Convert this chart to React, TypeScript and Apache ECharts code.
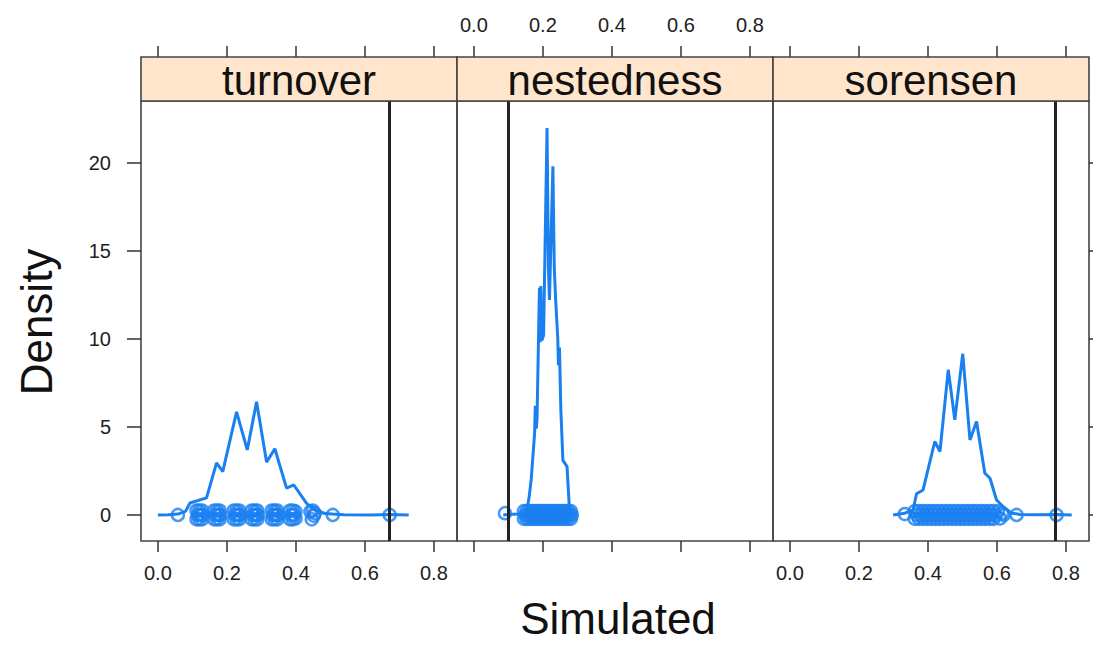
import React, { useEffect, useRef } from "react";
import * as echarts from "echarts";

// ---------- data ----------
const panelNames = ["turnover", "nestedness", "sorensen"];
const xTicks = [0, 0.2, 0.4, 0.6, 0.8];
const yTicks = [0, 5, 10, 15, 20];
const observedValues = [0.672, 0.099, 0.774];

const turnoverDensity = [
  [0.0, 0], [0.03, 0.01], [0.058, 0.05], [0.08, 0.2], [0.093, 0.68], [0.141, 0.97],
  [0.170, 2.96], [0.188, 2.46], [0.228, 5.85], [0.259, 3.69], [0.286, 6.42],
  [0.315, 3.0], [0.339, 3.76], [0.373, 1.52], [0.394, 1.70], [0.431, 0.66],
  [0.455, 0.28], [0.484, 0.08], [0.507, 0.05], [0.54, 0.01], [0.62, 0.0],
  [0.672, 0.03], [0.727, 0.0],
];
const nestednessDensity = [
  [0.085, 0], [0.099, 0.03], [0.13, 0.05], [0.152, 0.1], [0.160, 1.0], [0.166, 1.99],
  [0.176, 4.64], [0.178, 6.2], [0.181, 4.9], [0.183, 5.5], [0.190, 12.9], [0.192, 9.8],
  [0.194, 13.0], [0.197, 9.9], [0.202, 10.2], [0.212, 21.97], [0.216, 14.0], [0.219, 12.2],
  [0.229, 19.8], [0.233, 14.0], [0.237, 12.2], [0.243, 10.06], [0.245, 8.5],
  [0.248, 9.5], [0.252, 6.0], [0.258, 3.1], [0.270, 2.74], [0.277, 0.28],
  [0.29, 0.02], [0.30, 0],
];
const sorensenDensity = [
  [0.299, 0], [0.333, 0.1], [0.357, 0.28], [0.367, 1.2], [0.386, 1.42],
  [0.420, 4.17], [0.435, 3.6], [0.459, 8.24], [0.478, 5.4], [0.501, 9.15],
  [0.522, 4.26], [0.541, 5.3], [0.565, 2.37], [0.580, 2.08], [0.599, 0.85],
  [0.618, 0.47], [0.643, 0.1], [0.667, 0.03], [0.72, 0.01], [0.774, 0.03],
  [0.817, 0],
];

// simulated values (x) with their vertical jitter (y)
const turnoverPoints = [
  [0.058, 0],
  [0.112, -0.25], [0.112, 0.25], [0.116, 0], [0.12, -0.25], [0.12, 0.25], [0.124, 0], [0.128, -0.25], [0.128, 0.25], [0.13, 0],
  [0.163, -0.25], [0.163, 0.25], [0.167, 0], [0.171, -0.25], [0.171, 0.25], [0.175, 0], [0.179, -0.25], [0.179, 0.25], [0.181, 0],
  [0.22, -0.25], [0.22, 0.25], [0.224, 0], [0.228, -0.25], [0.228, 0.25], [0.232, 0], [0.236, -0.25], [0.236, 0.25], [0.238, 0],
  [0.272, -0.25], [0.272, 0.25], [0.276, 0], [0.28, -0.25], [0.28, 0.25], [0.284, 0], [0.288, -0.25], [0.288, 0.25], [0.29, 0],
  [0.33, -0.25], [0.33, 0.25], [0.334, 0], [0.338, -0.25], [0.338, 0.25], [0.342, 0], [0.346, -0.25], [0.346, 0.25], [0.348, 0],
  [0.383, -0.25], [0.383, 0.25], [0.387, 0], [0.391, -0.25], [0.391, 0.25], [0.395, 0], [0.399, -0.2], [0.399, 0.2],
  [0.442, 0.2], [0.446, -0.25], [0.449, 0.25], [0.452, -0.05], [0.455, 0.1],
  [0.507, 0], [0.672, 0],
];
const nestednessPoints = [
  [0.09, 0.1],
  [0.145, 0.22], [0.145, -0.22], [0.149, 0.0], [0.153, 0.22], [0.153, -0.22],
  [0.157, 0.0], [0.161, 0.22], [0.161, -0.22], [0.165, 0.0], [0.169, 0.22],
  [0.169, -0.22], [0.173, 0.0], [0.177, 0.22], [0.177, -0.22], [0.181, 0.0],
  [0.185, 0.22], [0.185, -0.22], [0.189, 0.0], [0.193, 0.22], [0.193, -0.22],
  [0.197, 0.0], [0.201, 0.22], [0.201, -0.22], [0.205, 0.0], [0.209, 0.22],
  [0.209, -0.22], [0.213, 0.0], [0.217, 0.22], [0.217, -0.22], [0.221, 0.0],
  [0.225, 0.22], [0.225, -0.22], [0.229, 0.0], [0.233, 0.22], [0.233, -0.22],
  [0.237, 0.0], [0.241, 0.22], [0.241, -0.22], [0.245, 0.0], [0.249, 0.22],
  [0.249, -0.22], [0.253, 0.0], [0.257, 0.22], [0.257, -0.22], [0.261, 0.0],
  [0.265, 0.22], [0.265, -0.22], [0.269, 0.0], [0.273, 0.22], [0.273, -0.22],
  [0.277, 0.0], [0.281, 0.22], [0.281, -0.22], [0.284, 0.0],
];
const sorensenPoints = [
  [0.333, 0.05],
  [0.362, 0.22], [0.362, -0.22], [0.368, 0.0], [0.374, 0.22], [0.374, -0.22],
  [0.38, 0.0], [0.386, 0.22], [0.386, -0.22], [0.392, 0.0], [0.398, 0.22],
  [0.398, -0.22], [0.404, 0.0], [0.41, 0.22], [0.41, -0.22], [0.416, 0.0],
  [0.422, 0.22], [0.422, -0.22], [0.428, 0.0], [0.434, 0.22], [0.434, -0.22],
  [0.44, 0.0], [0.446, 0.22], [0.446, -0.22], [0.452, 0.0], [0.458, 0.22],
  [0.458, -0.22], [0.464, 0.0], [0.47, 0.22], [0.47, -0.22], [0.476, 0.0],
  [0.482, 0.22], [0.482, -0.22], [0.488, 0.0], [0.494, 0.22], [0.494, -0.22],
  [0.5, 0.0], [0.506, 0.22], [0.506, -0.22], [0.512, 0.0], [0.518, 0.22],
  [0.518, -0.22], [0.524, 0.0], [0.53, 0.22], [0.53, -0.22], [0.536, 0.0],
  [0.542, 0.22], [0.542, -0.22], [0.548, 0.0], [0.554, 0.22], [0.554, -0.22],
  [0.56, 0.0], [0.566, 0.22], [0.566, -0.22], [0.572, 0.0], [0.578, 0.22],
  [0.578, -0.22], [0.584, 0.0], [0.59, 0.22], [0.59, -0.22], [0.596, 0.0],
  [0.603, 0.2], [0.609, -0.2], [0.615, 0.1], [0.62, 0.0],
  [0.657, 0], [0.773, 0],
];

const densities = [turnoverDensity, nestednessDensity, sorensenDensity];
const points = [turnoverPoints, nestednessPoints, sorensenPoints];

// ---------- layout / style ----------
const X_MIN = -0.049;
const X_MAX = 0.867;
const Y_MIN = -1.48;
const Y_MAX = 23.5;
const PANEL_LEFT = 141;
const PANEL_W = 316;
const PANEL_TOP = 101;
const PANEL_H = 440;
const STRIP_H = 44;
const BLUE = "#1a80f0";
const FONT = "'Liberation Sans', Arial, Helvetica, sans-serif";
const AXIS_COL = "#333";

export default function App() {
  const ref = useRef<HTMLDivElement>(null);

  useEffect(() => {
    document.body.style.margin = "0";
    const chart = echarts.init(ref.current!, null, { renderer: "svg" });

    const grids = panelNames.map((_, i) => ({
      left: PANEL_LEFT + PANEL_W * i,
      top: PANEL_TOP,
      width: PANEL_W,
      height: PANEL_H,
      show: true,
      borderColor: "#444",
      borderWidth: 1.6,
      backgroundColor: "transparent",
      containLabel: false,
    }));

    const fmt = (v: number) => v.toFixed(1);

    const tickStyle = { color: AXIS_COL, width: 1.5 };
    const labelStyle = { fontSize: 20, fontFamily: FONT, color: "#222" };

    const bottomAxes = panelNames.map((_, i) => ({
      type: "value",
      gridIndex: i,
      position: "bottom",
      min: X_MIN,
      max: X_MAX,
      axisLine: { show: false, onZero: false },
      splitLine: { show: false },
      axisTick: { show: true, inside: false, length: 11, customValues: xTicks, lineStyle: tickStyle },
      axisLabel: { show: i !== 1, customValues: xTicks, formatter: fmt, margin: 22, ...labelStyle },
    }));

    const topAxes = panelNames.map((_, i) => ({
      type: "value",
      gridIndex: i,
      position: "top",
      offset: STRIP_H,
      min: X_MIN,
      max: X_MAX,
      axisLine: { show: false, onZero: false },
      splitLine: { show: false },
      axisTick: { show: true, inside: false, length: 11, customValues: xTicks, lineStyle: tickStyle },
      axisLabel: { show: i === 1, customValues: xTicks, formatter: fmt, margin: 22, ...labelStyle },
    }));

    const yAxes = panelNames.map((_, i) => ({
      type: "value",
      gridIndex: i,
      position: i === 2 ? "right" : "left",
      min: Y_MIN,
      max: Y_MAX,
      axisLine: { show: false, onZero: false },
      splitLine: { show: false },
      axisTick: { show: i !== 1, inside: false, length: i === 2 ? 7 : 14, customValues: yTicks, lineStyle: tickStyle },
      axisLabel: { show: i === 0, customValues: yTicks, margin: 30, ...labelStyle },
    }));

    const series: any[] = [];
    panelNames.forEach((_, i) => {
      series.push({
        type: "scatter",
        xAxisIndex: i,
        yAxisIndex: i,
        data: points[i],
        symbol: "circle",
        symbolSize: 12,
        itemStyle: { color: "rgba(0,0,0,0)", borderColor: BLUE, borderWidth: 2.5 },
        silent: true,
        z: 3,
      });
      series.push({
        type: "line",
        xAxisIndex: i,
        yAxisIndex: i,
        data: densities[i],
        showSymbol: false,
        symbol: "none",
        smooth: false,
        lineStyle: { color: BLUE, width: 3 },
        silent: true,
        z: 4,
        markLine: {
          silent: true,
          symbol: "none",
          label: { show: false },
          lineStyle: { color: "#222", width: 3, type: "solid" },
          data: [{ xAxis: observedValues[i] }],
        },
      });
    });

    const graphics: any[] = [];
    panelNames.forEach((name, i) => {
      graphics.push({
        type: "rect",
        shape: { x: PANEL_LEFT + PANEL_W * i, y: PANEL_TOP - STRIP_H, width: PANEL_W, height: STRIP_H },
        style: { fill: "#ffe5cc", stroke: "#444", lineWidth: 1.6 },
        z: 10,
      });
      graphics.push({
        type: "text",
        x: PANEL_LEFT + PANEL_W * i + PANEL_W / 2,
        y: PANEL_TOP - STRIP_H / 2 + 1,
        style: {
          text: name,
          fontSize: 42,
          fontFamily: FONT,
          fill: "#111",
          textAlign: "center",
          textVerticalAlign: "middle",
        },
        z: 11,
      });
    });
    graphics.push({
      type: "text",
      x: 36,
      y: 322,
      rotation: Math.PI / 2,
      style: {
        text: "Density",
        fontSize: 44,
        fontFamily: FONT,
        fill: "#111",
        textAlign: "center",
        textVerticalAlign: "middle",
      },
    });
    graphics.push({
      type: "text",
      x: 618,
      y: 618,
      style: {
        text: "Simulated",
        fontSize: 44,
        fontFamily: FONT,
        fill: "#111",
        textAlign: "center",
        textVerticalAlign: "middle",
      },
    });

    chart.setOption({
      animation: false,
      backgroundColor: "#fff",
      grid: grids,
      xAxis: [...bottomAxes, ...topAxes],
      yAxis: yAxes,
      series,
      graphic: graphics,
    });

    return () => chart.dispose();
  }, []);

  return (
    <div
      ref={ref}
      style={{ position: "absolute", left: 0, top: 0, width: 1093, height: 645, background: "#fff" }}
    />
  );
}
